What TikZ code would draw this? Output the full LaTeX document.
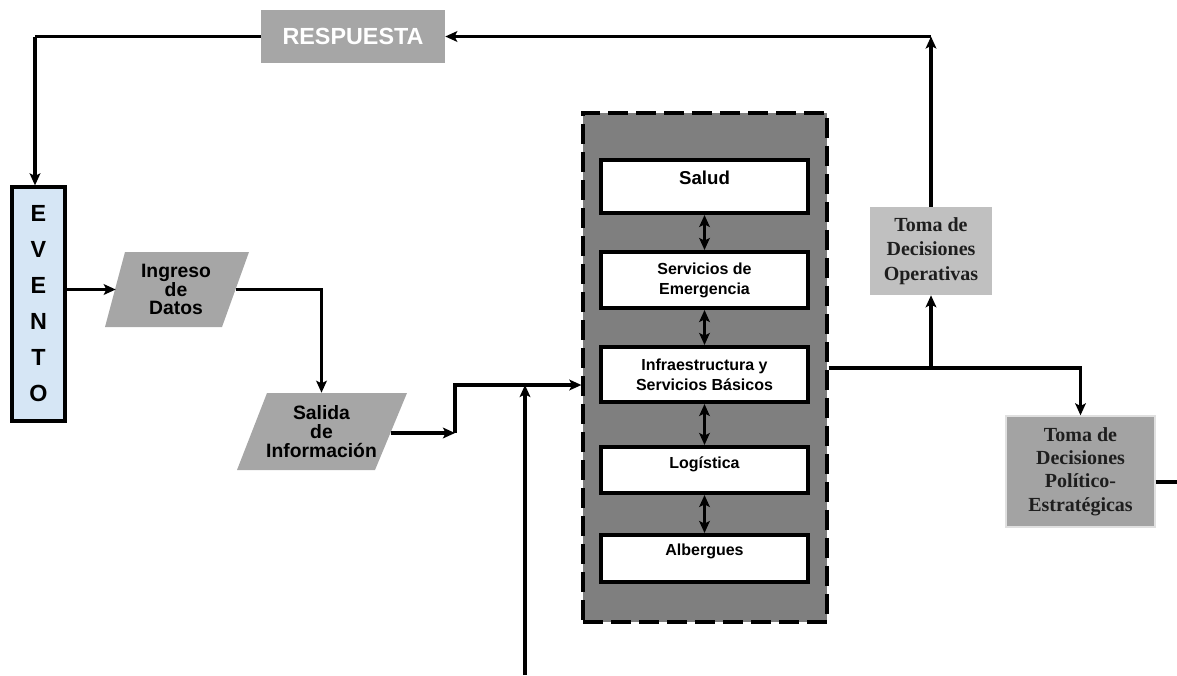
\documentclass[tikz,border=0pt]{standalone}
\usepackage{fontspec}
\setmainfont{Liberation Serif}
\setsansfont{Liberation Sans}
\usetikzlibrary{arrows.meta}

\definecolor{boxgray}{HTML}{A6A6A6}
\definecolor{panelgray}{HTML}{7F7F7F}
\definecolor{lightgray}{HTML}{C0C0C0}
\definecolor{midgray}{HTML}{A3A3A3}
\definecolor{paleblue}{HTML}{D6E6F5}
\definecolor{inkdark}{HTML}{1E1E1E}

% one coordinate unit is 0.75pt; node sizes below are given in pt
\begin{document}
\begin{tikzpicture}[x=0.75pt,y=-0.75pt,
  >={Stealth[length=9pt,width=8pt,inset=2pt]},
  wire/.style={line width=2.3pt},
  link/.style={line width=2.3pt,->},
  twoway/.style={line width=2.3pt,<->},
  respbox/.style={fill=boxgray,inner sep=0pt,minimum width=138pt,minimum height=39.75pt,
    text=white,font=\sffamily\bfseries\fontsize{17.5}{20}\selectfont},
  eventbox/.style={fill=paleblue,draw=black,line width=2.4pt,inner sep=0pt,
    minimum width=39.75pt,minimum height=175.5pt,align=center,
    font=\sffamily\bfseries\fontsize{17.5}{27}\selectfont},
  slanttext/.style={inner sep=0pt,align=center,
    font=\sffamily\bfseries\fontsize{14.5}{14}\selectfont},
  panel/.style={fill=panelgray,draw=black,line width=2.4pt,
    dash pattern=on 15pt off 6pt,inner sep=0pt,minimum width=183pt,minimum height=381.75pt},
  areabox/.style={fill=white,draw=black,line width=3pt,inner sep=0pt,
    minimum width=155.25pt,align=center,
    font=\sffamily\bfseries\fontsize{12}{15}\selectfont},
  decisionbox/.style={inner sep=0pt,align=center,text=inkdark,
    font=\rmfamily\bfseries\fontsize{15}{18.5}\selectfont}
]
\useasboundingbox (0,0) rectangle (1177,675);

% feedback box
\node[respbox] (resp) at (353,36.5) {RESPUESTA};

% event column
\node[eventbox] (evento) at (38.5,304) {E\\V\\E\\N\\T\\O};

% data input / output parallelograms
\fill[boxgray] (105,327) -- (125,252) -- (249,252) -- (222,327) -- cycle;
\node[slanttext,minimum width=90pt,minimum height=56.25pt] (ingreso) at (176,289.5)
  {Ingreso\\de\\Datos};
\fill[boxgray] (237,470) -- (267,393) -- (407,393) -- (375,470) -- cycle;
\node[slanttext,minimum width=104.25pt,minimum height=57.75pt,
  font=\sffamily\bfseries\fontsize{14.5}{14.3}\selectfont] (salida) at (321.5,431.5)
  {Salida\\de\\Información};

% sectors panel
\node[panel] (panel) at (705,367.5) {};
\node[areabox,minimum height=39.75pt,font=\sffamily\bfseries\fontsize{14}{13}\selectfont]
  (salud) at (704.5,186.5) {Salud\\\mbox{}};
\node[areabox,minimum height=42pt] (emerg) at (704.5,280) {Servicios de\\Emergencia};
\node[areabox,minimum height=41.25pt] (infra) at (704.5,374.5)
  {Infraestructura y\\Servicios Básicos};
\node[areabox,minimum height=34.5pt,font=\sffamily\bfseries\fontsize{12}{10.5}\selectfont]
  (logis) at (704.5,470) {Logística\\\mbox{}};
\node[areabox,minimum height=35.25pt,font=\sffamily\bfseries\fontsize{12}{12.5}\selectfont]
  (alberg) at (704.5,558.5) {Albergues\\\mbox{}};

\draw[twoway] (salud) -- (emerg);
\draw[twoway] (emerg) -- (infra);
\draw[twoway] (infra) -- (logis);
\draw[twoway] (logis) -- (alberg);

% decision boxes
\node[decisionbox,fill=lightgray,minimum width=91.5pt,minimum height=66pt] (tomaop)
  at (931,251) {Toma de\\Decisiones\\Operativas};
\node[decisionbox,fill=midgray,draw=black!12,line width=1pt,minimum width=111.75pt,
  minimum height=83.25pt,font=\rmfamily\bfseries\fontsize{15}{17.5}\selectfont]
  (tomape) at (1080.5,471.5) {Toma de\\Decisiones\\Político-\\Estratégicas};

% junction points
\coordinate (topleft) at (35,36.5);
\coordinate (topright) at (931,36.5);
\coordinate (merge) at (455,433);
\coordinate (feedin) at (455,385);
\coordinate (bottomin) at (525,675);
\coordinate (split) at (931,368);
\coordinate (exitright) at (1177,482);

% connectors
\draw[wire] (resp.west) -- (topleft);
\draw[link] (topleft) -- (topleft |- evento.north);
\draw[link] (evento.east |- ingreso.west) -- (ingreso.west);
\draw[link] (ingreso.east) -| (salida.north);
\draw[link] (salida.east |- merge) -- (merge);
\draw[link] (merge) -- (feedin) -- (feedin -| panel.west);
\draw[link] (bottomin) -- (bottomin |- feedin);
\draw[wire] (panel.east |- split) -- (split);
\draw[link] (split) -- (tomaop.south);
\draw[link] (split) -| (tomape.north);
\draw[link] (tomaop.north) -- (topright);
\draw[link] (topright) -- (resp.east);
\draw[wire] (tomape.east |- exitright) -- (exitright);
\end{tikzpicture}
\end{document}
